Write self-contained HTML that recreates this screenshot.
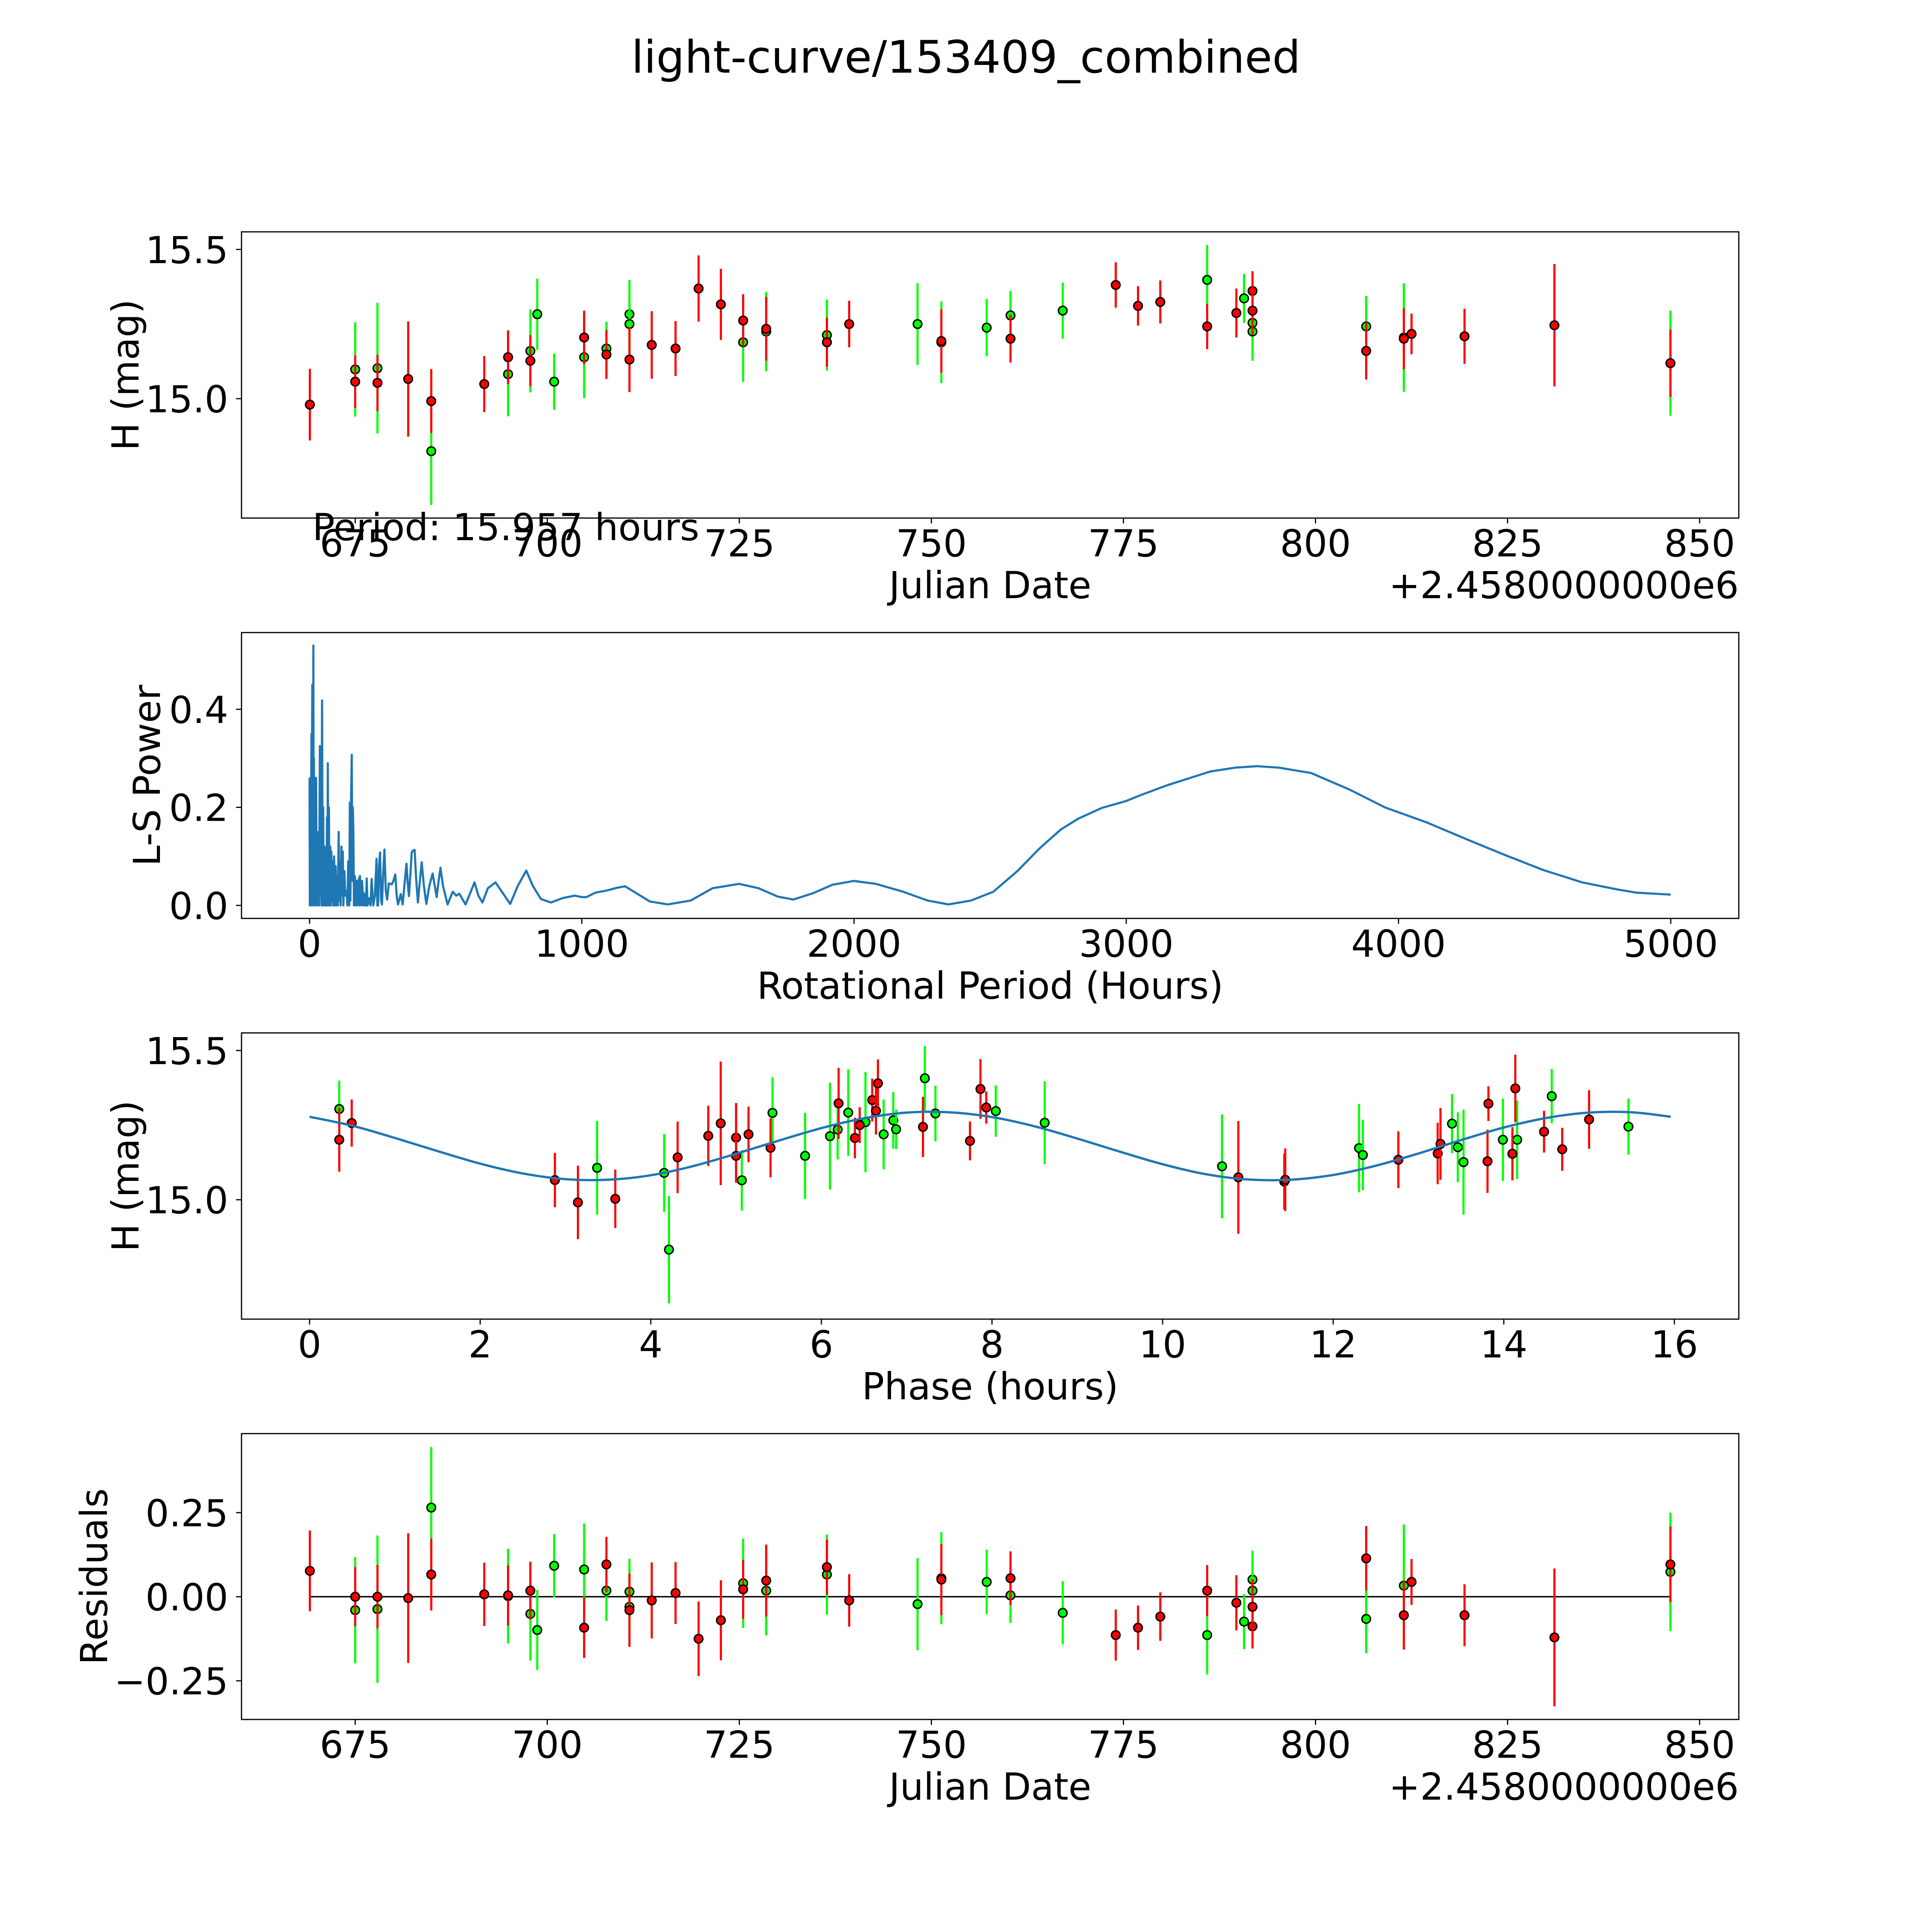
<!DOCTYPE html>
<html><head><meta charset="utf-8"><style>html,body{margin:0;padding:0;background:#fff;overflow:hidden;width:100%;height:100%}svg{display:block;width:100vw;height:100vh}text{font-family:"DejaVu Sans","Liberation Sans",sans-serif;fill:#000}</style></head>
<body>
<svg id="fig" xmlns="http://www.w3.org/2000/svg" viewBox="0 0 5400 5400" preserveAspectRatio="none">
<rect width="5400" height="5400" fill="#fff"/>
<text x="2700" y="203" font-size="125" text-anchor="middle">light-curve/153409_combined</text>
</svg>
<script>
// ---- observation data (JD offset from 2458000, magnitude, error, band, residual) ----
const obsJD = [669.1,675.0,675.0,677.9,677.9,681.9,684.9,684.9,691.8,694.9,694.9,697.8,697.8,698.7,700.9,704.8,704.8,707.7,707.7,710.7,710.7,710.7,713.6,716.7,719.7,722.6,725.5,725.5,728.5,728.5,736.4,736.4,739.3,748.2,751.3,751.3,757.2,760.3,760.3,767.1,774.0,776.9,779.8,785.9,785.9,789.7,790.7,791.8,791.8,791.8,791.8,806.6,806.6,811.5,811.5,812.5,819.4,831.1,846.2,846.2];
const obsMag = [14.98,15.057,15.098,15.102,15.053,15.066,14.992,14.824,15.049,15.139,15.082,15.127,15.160,15.283,15.057,15.205,15.139,15.148,15.168,15.131,15.283,15.250,15.180,15.168,15.369,15.316,15.262,15.189,15.234,15.225,15.213,15.189,15.250,15.250,15.193,15.189,15.238,15.201,15.279,15.295,15.381,15.311,15.324,15.398,15.242,15.287,15.336,15.361,15.295,15.254,15.225,15.242,15.160,15.201,15.205,15.217,15.209,15.246,15.119,15.119];
const obsErr = [0.12,0.088,0.158,0.219,0.094,0.193,0.107,0.180,0.094,0.090,0.141,0.086,0.139,0.119,0.094,0.090,0.137,0.082,0.090,0.109,0.115,0.098,0.113,0.092,0.111,0.119,0.088,0.133,0.107,0.133,0.119,0.082,0.078,0.137,0.106,0.137,0.096,0.080,0.082,0.094,0.076,0.066,0.072,0.117,0.076,0.082,0.082,0.066,0.082,0.086,0.098,0.102,0.096,0.102,0.182,0.068,0.092,0.205,0.113,0.176];
const obsBand = ["R","R","G","G","R","R","R","G","R","R","G","R","G","G","G","R","G","R","G","R","G","G","R","R","R","R","R","G","R","G","G","R","R","G","R","G","G","R","G","G","R","R","R","G","R","R","G","R","R","G","G","G","R","R","G","R","R","R","R","G"];
const obsResid = [0.077,0.0,-0.04,-0.037,0.0,-0.004,0.066,0.265,0.007,0.004,0.002,0.018,-0.051,-0.099,0.092,-0.092,0.081,0.096,0.018,-0.04,-0.03,0.015,-0.011,0.011,-0.125,-0.07,0.022,0.04,0.048,0.018,0.066,0.088,-0.011,-0.022,0.051,0.055,0.044,0.055,0.004,-0.048,-0.114,-0.092,-0.059,-0.114,0.018,-0.018,-0.074,-0.088,-0.03,0.051,0.018,-0.066,0.114,-0.055,0.033,0.044,-0.055,-0.121,0.096,0.074];
// ---- phased data ----
const phaseHr = [0.348,0.348,0.494,2.876,3.146,3.371,3.584,4.157,4.213,4.315,4.674,4.820,5.0,5.0,5.067,5.146,5.404,5.427,5.809,6.101,6.191,6.202,6.315,6.393,6.449,6.517,6.596,6.640,6.663,6.730,6.843,6.876,7.191,7.213,7.337,7.742,7.865,7.933,8.045,8.618,10.697,10.888,11.427,11.438,12.303,12.348,12.764,13.225,13.258,13.393,13.461,13.528,13.809,13.820,13.989,14.101,14.135,14.157,14.472,14.562,14.685,15.0,15.461];
const phaseMag = [15.304,15.201,15.257,15.066,14.991,15.107,15.003,15.090,14.833,15.142,15.214,15.256,15.208,15.147,15.065,15.219,15.174,15.291,15.147,15.213,15.235,15.323,15.292,15.207,15.250,15.260,15.334,15.298,15.390,15.219,15.266,15.236,15.244,15.407,15.289,15.197,15.371,15.309,15.297,15.258,15.112,15.075,15.061,15.067,15.173,15.150,15.134,15.155,15.187,15.255,15.176,15.126,15.129,15.322,15.201,15.154,15.373,15.201,15.228,15.347,15.169,15.269,15.245];
const phaseErr = [0.095,0.107,0.079,0.091,0.123,0.157,0.098,0.130,0.180,0.120,0.101,0.207,0.116,0.090,0.101,0.093,0.099,0.120,0.144,0.179,0.100,0.119,0.145,0.068,0.060,0.168,0.072,0.080,0.080,0.117,0.095,0.066,0.101,0.108,0.093,0.065,0.100,0.054,0.086,0.139,0.174,0.189,0.094,0.105,0.148,0.118,0.095,0.103,0.120,0.099,0.117,0.176,0.106,0.058,0.138,0.089,0.113,0.132,0.070,0.091,0.072,0.098,0.094];
const phaseBand = ["G","R","R","R","R","G","R","G","G","R","R","R","R","R","G","R","R","G","G","G","G","R","G","R","R","G","R","R","R","G","G","G","R","G","G","R","R","R","G","G","G","R","R","R","G","G","R","R","R","G","G","G","R","R","G","R","R","G","R","G","R","R","G"];
// ---- fitted model curve (hours, mag) ----
const modelHr = [0,0.5,1,1.5,2,2.5,3,3.5,4,4.5,5,5.5,6,6.5,7,7.5,8,8.5,9,9.5,10,10.5,11,11.5,12,12.5,13,13.5,14,14.5,15,15.5,15.957];
const modelMag = [15.278,15.248,15.207,15.163,15.121,15.088,15.069,15.067,15.082,15.113,15.154,15.198,15.240,15.273,15.292,15.293,15.277,15.246,15.205,15.161,15.119,15.086,15.068,15.067,15.083,15.114,15.155,15.200,15.242,15.274,15.292,15.293,15.278];
// ---- Lomb-Scargle periodogram ----
const lsPeriod = [0,1,3,5,7,8,10,11,13,14,15,16,18,20,22,24,26,28,30,33,35,38,40,42,44,46,48,50,52,55,57,60,62,64,66,67,69,71,73,76,78,80,82,85,87,90,93,96,99,102,104,107,109,112,114,117,119,122,124,128,131,136,139,142,144,146,148,150,152,155,157,159,161,163,166,168,170,173,175,178,181,183,185,188,190,193,196,198,200,203,207,210,213,216,220,224,228,234,240,246,249,252,255,259,263,266,270,275,280,285,291,302,308,315,320,325,335,342,350,356,360,365,370,375,380,386,392,398,405,412,420,429,440,452,460,467,474,481,490,507,526,539,550,573,590,606,620,635,655,683,710,737,765,796,820,850,887,930,974,1000,1017,1050,1088,1130,1159,1200,1250,1316,1400,1480,1578,1650,1720,1777,1850,1920,1999,2080,2180,2270,2347,2430,2512,2600,2683,2760,2824,2911,3000,3053,3150,3308,3400,3480,3560,3679,3821,3950,4105,4250,4390,4533,4675,4800,4874,5000];
const lsPower = [0.26,0.0,0.26,0.05,0.35,0.0,0.45,0.05,0.2,0.53,0.0,0.3,0.02,0.26,0.0,0.26,0.03,0.1,0.0,0.15,0.0,0.325,0.02,0.14,0.0,0.418,0.0,0.2,0.0,0.12,0.0,0.11,0.0,0.18,0.0,0.29,0.0,0.2,0.0,0.12,0.0,0.11,0.01,0.09,0.0,0.1,0.0,0.08,0.0,0.06,0.0,0.15,0.01,0.09,0.0,0.12,0.02,0.11,0.0,0.07,0.02,0.03,0.0,0.09,0.05,0.0,0.21,0.01,0.2,0.307,0.05,0.2,0.15,0.0,0.06,0.05,0.0,0.05,0.0,0.04,0.055,0.0,0.06,0.02,0.0,0.05,0.01,0.0,0.025,0.0,0.0,0.055,0.0,0.005,0.015,0.0,0.054,0.0,0.02,0.095,0.0,0.0,0.08,0.108,0.01,0.002,0.06,0.114,0.03,0.012,0.045,0.043,0.05,0.063,0.02,0.002,0.023,0.002,0.05,0.085,0.05,0.019,0.06,0.108,0.112,0.113,0.05,0.006,0.05,0.088,0.04,0.003,0.04,0.065,0.04,0.017,0.05,0.077,0.04,0.002,0.028,0.02,0.024,0.002,0.025,0.047,0.02,0.006,0.035,0.047,0.025,0.003,0.04,0.071,0.04,0.013,0.006,0.015,0.02,0.017,0.017,0.026,0.03,0.036,0.039,0.025,0.008,0.002,0.01,0.035,0.044,0.035,0.018,0.012,0.025,0.042,0.05,0.044,0.028,0.01,0.002,0.01,0.028,0.07,0.117,0.155,0.177,0.199,0.213,0.225,0.245,0.273,0.281,0.284,0.281,0.270,0.236,0.2,0.169,0.135,0.103,0.072,0.047,0.033,0.026,0.022];
// ---- tick labels ----
const jdTicks = [675,700,725,750,775,800,825,850];
const magTicks = [15.0,15.5];
const magTickLabels = ["15.0","15.5"];
const lsXTicks = [0,1000,2000,3000,4000,5000];
const lsYTicks = [0.0,0.2,0.4];
const lsYTickLabels = ["0.0","0.2","0.4"];
const phTicks = [0,2,4,6,8,10,12,14,16];
const resTicks = [-0.25,0.0,0.25];
const resTickLabels = ["\u22120.25","0.00","0.25"];

const NS = "http://www.w3.org/2000/svg";
const svg = document.getElementById('fig');
const L = 675, R = 4860, FS = 104;
const panels = [[648,1448],[1768,2567],[2887,3687],[4007,4806]];
const COL = {R:"#ff0000", G:"#00ff00"};
const BAND_ORDER = ["G","R"];

function mk(tag, attrs, parent){
  const e = document.createElementNS(NS, tag);
  for (const k in attrs) e.setAttribute(k, attrs[k]);
  (parent || svg).appendChild(e);
  return e;
}
function scale(d0,d1,r0,r1){ return v => r0 + (v-d0)/(d1-d0)*(r1-r0); }

function axes(idx, name, xs, ys, xt, xtl, yt, ytl, xlabel, ylabel, ylabX){
  const [top,bot] = panels[idx];
  const g = mk('g', {});
  
  
  xt.forEach((v,i) => {
    const x = xs(v);
    const t = mk('line', {x1:x,x2:x,y1:bot,y2:bot+15,stroke:'#000','stroke-width':3.3}, g);
    
    
    const tx = mk('text', {x:x,y:bot+107,'font-size':FS,'text-anchor':'middle'}, g);
    tx.textContent = xtl[i];
    
    
  });
  yt.forEach((v,i) => {
    const y = ys(v);
    const t = mk('line', {x1:L-15,x2:L,y1:y,y2:y,stroke:'#000','stroke-width':3.3}, g);
    
    
    const ty = mk('text', {x:L-37,y:y+38,'font-size':FS,'text-anchor':'end'}, g);
    ty.textContent = ytl[i];
    
    
  });
  const xl = mk('text', {x:(L+R)/2,y:bot+224,'font-size':FS,'text-anchor':'middle'}, g);
  xl.textContent = xlabel;
  
  
  const cy = (top+bot)/2;
  const yl = mk('text', {x:ylabX,y:cy,'font-size':FS,'text-anchor':'middle',transform:`rotate(-90 ${ylabX} ${cy})`}, g);
  yl.textContent = ylabel;
  
  
  return g;
}
function frame(idx, name){
  const [top,bot] = panels[idx];
  const f = mk('rect', {x:L,y:top,width:R-L,height:bot-top,fill:'none',stroke:'#000','stroke-width':3.3});
  
  
}
function errPoint(g, x, y, yLo, yHi, band, name){
  const b = mk('line', {x1:x,x2:x,y1:yLo,y2:yHi,stroke:COL[band],'stroke-width':6}, g);
  
  
  const c = mk('circle', {cx:x,cy:y,r:12,fill:COL[band],stroke:'#000','stroke-width':4}, g);
  
  
}
function clip(idx, id){
  const [top,bot] = panels[idx];
  const cp = mk('clipPath', {id:id});
  mk('rect', {x:L,y:top,width:R-L,height:bot-top}, cp);
}

// ---------- Panel 1: light curve ----------
const xJD = scale(660.2, 855.1, L, R);
const yMag1 = scale(14.60, 15.559, panels[0][1], panels[0][0]);
axes(0, 'light-curve', xJD, yMag1, jdTicks, jdTicks.map(String), magTicks, magTickLabels, 'Julian Date', 'H (mag)', 387);
const off1 = mk('text', {x:R,y:panels[0][1]+224,'font-size':FS,'text-anchor':'end'});
off1.textContent = '+2.4580000000e6';


const g1 = mk('g', {});


BAND_ORDER.forEach(bd => obsJD.forEach((d,i) => { if (obsBand[i] !== bd) return;
  errPoint(g1, xJD(d), yMag1(obsMag[i]), yMag1(obsMag[i]-obsErr[i]), yMag1(obsMag[i]+obsErr[i]), bd, 'light-curve-' + (bd=='R'?'red':'green')); }));
frame(0, 'light-curve');

// ---------- Panel 2: periodogram ----------
const xP = scale(-250, 5250, L, R);
const yP = scale(-0.0265, 0.5565, panels[1][1], panels[1][0]);
axes(1, 'periodogram', xP, yP, lsXTicks, lsXTicks.map(String), lsYTicks, lsYTickLabels, 'Rotational Period (Hours)', 'L-S Power', 447);
clip(1, 'cp2');
const lsPath = lsPeriod.map((p,i) => (i?'L':'M') + xP(p).toFixed(1) + ',' + yP(lsPower[i]).toFixed(1)).join(' ');
const ls = mk('path', {d:lsPath,fill:'none',stroke:'#1f77b4','stroke-width':6,'stroke-linejoin':'round','clip-path':'url(#cp2)'});


frame(1, 'periodogram');

// ---------- Panel 3: phased curve ----------
const xH = scale(-0.798, 16.755, L, R);
const yMag3 = scale(14.60, 15.559, panels[2][1], panels[2][0]);
axes(2, 'phase', xH, yMag3, phTicks, phTicks.map(String), magTicks, magTickLabels, 'Phase (hours)', 'H (mag)', 387);
const g3 = mk('g', {});


BAND_ORDER.forEach(bd => phaseHr.forEach((h,i) => { if (phaseBand[i] !== bd) return;
  errPoint(g3, xH(h), yMag3(phaseMag[i]), yMag3(phaseMag[i]-phaseErr[i]), yMag3(phaseMag[i]+phaseErr[i]), bd, 'phase-' + (bd=='R'?'red':'green')); }));
const mp = modelHr.map((h,i) => [xH(h), yMag3(modelMag[i])]);
let md = 'M' + mp[0][0].toFixed(1) + ',' + mp[0][1].toFixed(1);
for (let i=0;i<mp.length-1;i++){
  const p0 = mp[Math.max(0,i-1)], p1 = mp[i], p2 = mp[i+1], p3 = mp[Math.min(mp.length-1,i+2)];
  const c1 = [p1[0]+(p2[0]-p0[0])/6, p1[1]+(p2[1]-p0[1])/6];
  const c2 = [p2[0]-(p3[0]-p1[0])/6, p2[1]-(p3[1]-p1[1])/6];
  md += ` C${c1[0].toFixed(1)},${c1[1].toFixed(1)} ${c2[0].toFixed(1)},${c2[1].toFixed(1)} ${p2[0].toFixed(1)},${p2[1].toFixed(1)}`;
}
const ml = mk('path', {d:md,fill:'none',stroke:'#1f77b4','stroke-width':6.5});


frame(2, 'phase');

// ---------- Panel 4: residuals ----------
const yRes = scale(-0.365, 0.485, panels[3][1], panels[3][0]);
axes(3, 'residuals', xJD, yRes, jdTicks, jdTicks.map(String), resTicks, resTickLabels, 'Julian Date', 'Residuals', 299);
const off4 = mk('text', {x:R,y:panels[3][1]+224,'font-size':FS,'text-anchor':'end'});
off4.textContent = '+2.4580000000e6';


const zl = mk('line', {x1:xJD(obsJD[0]),x2:xJD(obsJD[obsJD.length-1]),y1:yRes(0),y2:yRes(0),stroke:'#000','stroke-width':4});


const g4 = mk('g', {});


BAND_ORDER.forEach(bd => obsJD.forEach((d,i) => { if (obsBand[i] !== bd) return;
  errPoint(g4, xJD(d), yRes(obsResid[i]), yRes(obsResid[i]-obsErr[i]), yRes(obsResid[i]+obsErr[i]), bd, 'residual-' + (bd=='R'?'red':'green')); }));
frame(3, 'residuals');

const pt = mk('text', {x:873,y:1510,'font-size':FS});
pt.textContent = 'Period: 15.957 hours';


</script>
</body></html>
